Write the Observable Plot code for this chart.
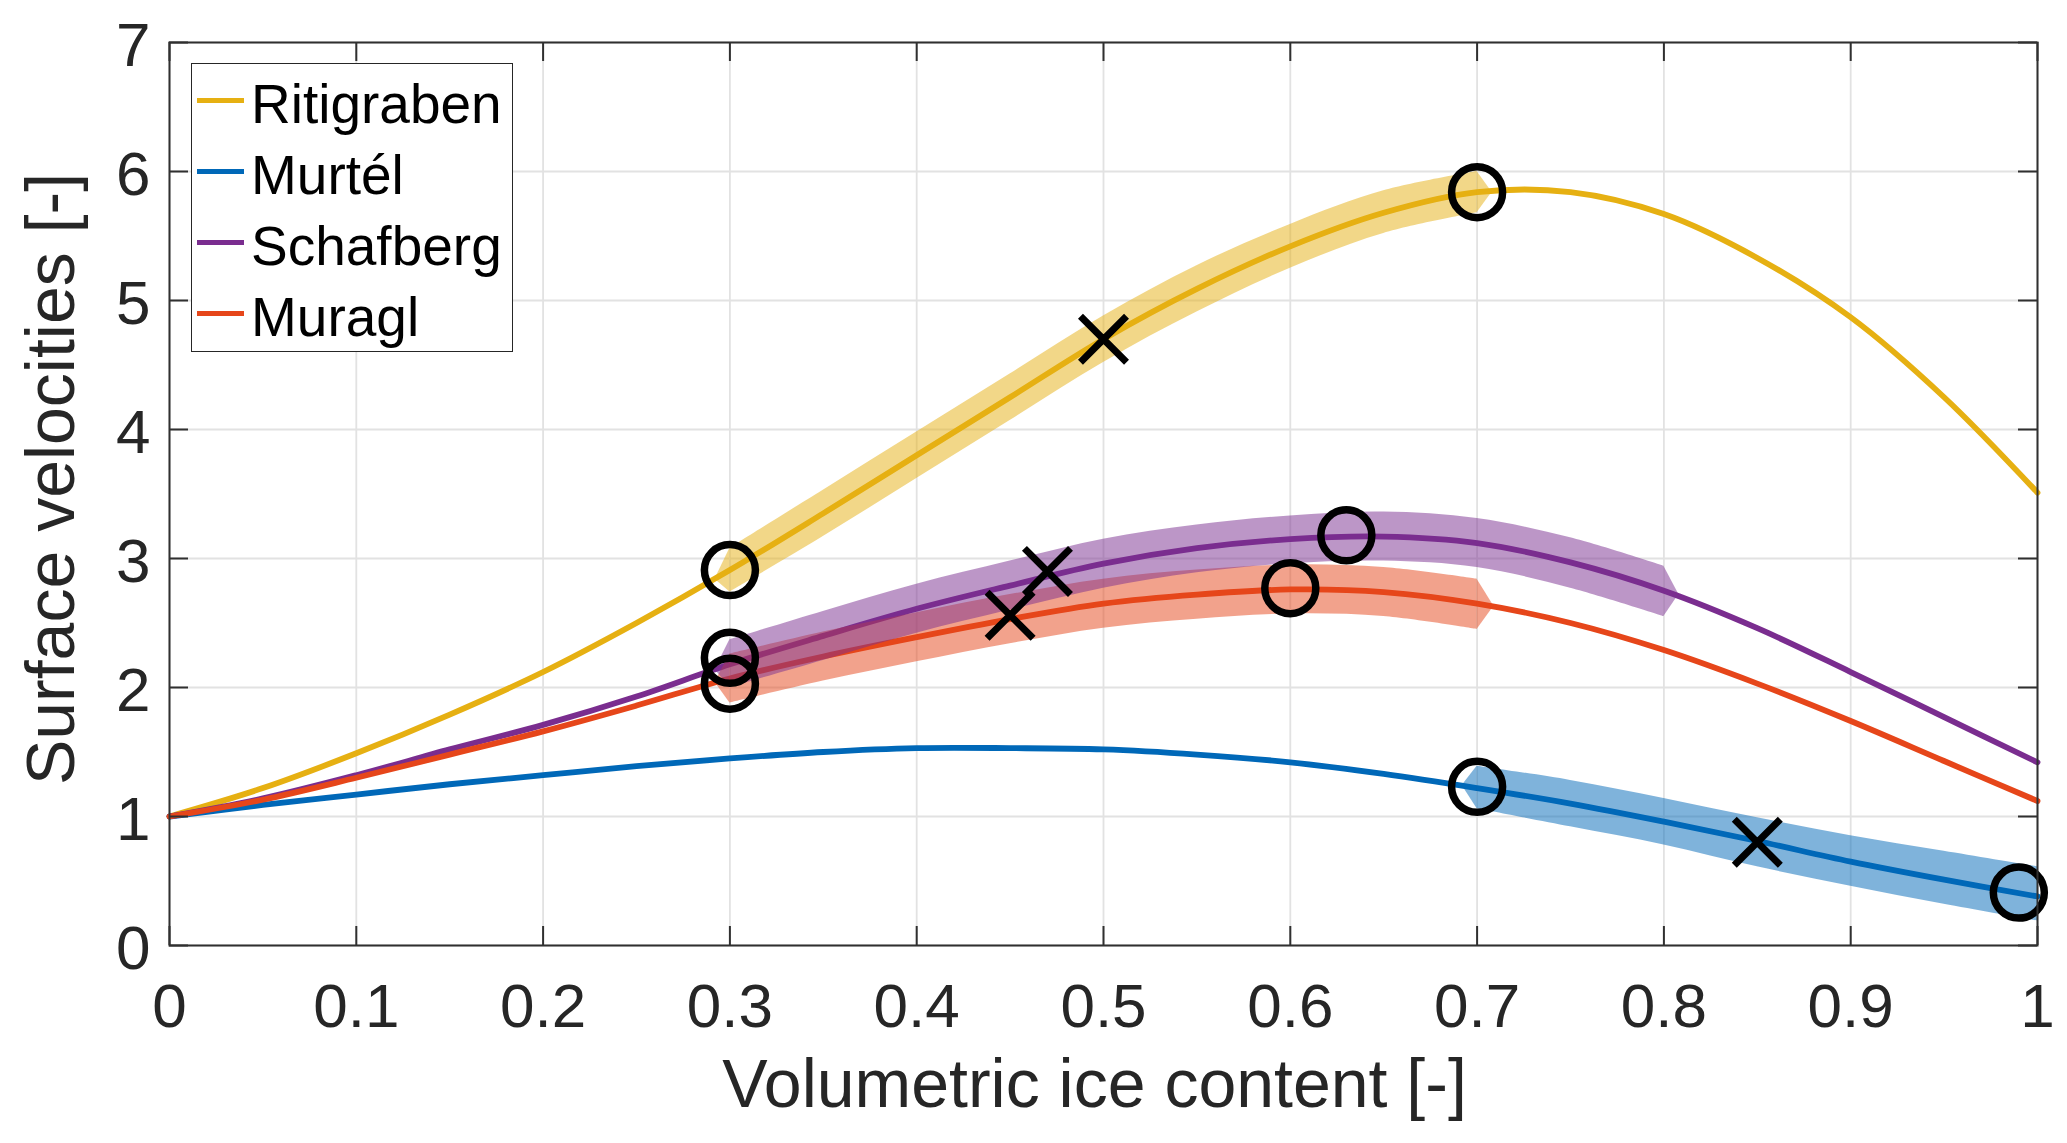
<!DOCTYPE html>
<html>
<head>
<meta charset="utf-8">
<script src="https://cdn.jsdelivr.net/npm/d3@7"></script>
<script src="https://cdn.jsdelivr.net/npm/@observablehq/plot@0.6"></script>
<style>
  body { margin: 0; background: #fff; }
  #chart { position: relative; width: 2067px; height: 1143px; font-family: "Liberation Sans", Arial, Helvetica, sans-serif; }
  #legend { position: absolute; left: 191px; top: 63px; width: 322px; height: 289px; box-sizing: border-box;
            border: 1.5px solid #262626; background: #fff; }
  #legend .row { position: absolute; left: 0; height: 71px; display: flex; align-items: center; }
  #legend .sw { width: 47px; height: 5.5px; margin-left: 5px; }
  #legend .lab { margin-left: 7px; font-size: 55px; color: #000; line-height: 1; transform: translateY(4px); white-space: nowrap; }
</style>
</head>
<body>
<div id="chart"><div id="legend"></div></div>
<script>
// ---------- Data ----------
const names  = ["Ritigraben", "Murtél", "Schafberg", "Muragl"];
const colors = ["#E6B012", "#0068B8", "#7A2D8F", "#E6461A"];

const xTicks = [0, 0.1, 0.2, 0.3, 0.4, 0.5, 0.6, 0.7, 0.8, 0.9, 1];
const yTicks = [0, 1, 2, 3, 4, 5, 6, 7];

// curves sampled every 0.05 of ice content
const xs         = [0, 0.05, 0.1, 0.15, 0.2, 0.25, 0.3, 0.35, 0.4, 0.45, 0.5, 0.55, 0.6, 0.65, 0.7, 0.75, 0.8, 0.85, 0.9, 0.95, 1];
const ritigraben = [1.00, 1.22, 1.49, 1.79, 2.12, 2.50, 2.91, 3.35, 3.80, 4.25, 4.70, 5.09, 5.42, 5.68, 5.84, 5.84, 5.67, 5.33, 4.87, 4.25, 3.51];
const murtel     = [1.00, 1.09, 1.17, 1.25, 1.32, 1.39, 1.45, 1.50, 1.53, 1.53, 1.52, 1.48, 1.42, 1.33, 1.22, 1.10, 0.96, 0.81, 0.65, 0.51, 0.38];
const schafberg  = [1.00, 1.14, 1.32, 1.52, 1.71, 1.93, 2.18, 2.40, 2.61, 2.79, 2.96, 3.08, 3.15, 3.17, 3.12, 2.97, 2.75, 2.46, 2.12, 1.77, 1.42];
const muragl     = [1.00, 1.13, 1.30, 1.48, 1.66, 1.86, 2.07, 2.24, 2.39, 2.53, 2.65, 2.72, 2.76, 2.74, 2.65, 2.50, 2.29, 2.03, 1.74, 1.43, 1.12];

// shaded ranges (lower / upper edge; equal values = pointed end)
const ritiBandX  = [0.292, 0.3, 0.35, 0.4, 0.45, 0.5, 0.55, 0.6, 0.65, 0.7, 0.708];
const ritiBandLo = [2.84, 2.74, 3.17, 3.62, 4.07, 4.52, 4.91, 5.25, 5.52, 5.68, 5.84];
const ritiBandHi = [2.84, 3.08, 3.53, 3.98, 4.43, 4.88, 5.27, 5.59, 5.85, 6.00, 5.84];

const murtBandX  = [0.692, 0.7, 0.75, 0.8, 0.85, 0.9, 0.95, 1];
const murtBandLo = [1.24, 1.06, 0.92, 0.78, 0.61, 0.46, 0.32, 0.19];
const murtBandHi = [1.24, 1.39, 1.28, 1.14, 0.99, 0.85, 0.73, 0.61];

const schaBandX  = [0.292, 0.3, 0.35, 0.4, 0.45, 0.5, 0.55, 0.6, 0.65, 0.7, 0.75, 0.8, 0.808];
const schaBandLo = [2.14, 2.00, 2.21, 2.42, 2.60, 2.77, 2.89, 2.96, 2.98, 2.93, 2.77, 2.55, 2.72];
const schaBandHi = [2.14, 2.37, 2.59, 2.80, 2.98, 3.15, 3.26, 3.33, 3.36, 3.31, 3.16, 2.94, 2.72];

const muraBandX  = [0.292, 0.3, 0.35, 0.4, 0.45, 0.5, 0.55, 0.6, 0.65, 0.7, 0.709];
const muraBandLo = [2.04, 1.88, 2.05, 2.20, 2.34, 2.46, 2.53, 2.57, 2.55, 2.45, 2.63];
const muraBandHi = [2.04, 2.26, 2.43, 2.58, 2.72, 2.84, 2.91, 2.95, 2.93, 2.84, 2.63];

// markers
const circleX = [0.3, 0.7, 0.7, 0.99, 0.3, 0.63, 0.3, 0.6];
const circleY = [2.91, 5.84, 1.23, 0.41, 2.23, 3.18, 2.03, 2.77];
const crossX  = [0.5, 0.85, 0.47, 0.45];
const crossY  = [4.70, 0.80, 2.90, 2.56];

// ---------- Tables for Plot ----------
const curves = [ritigraben, murtel, schafberg, muragl];
const lineRows = curves.flatMap((vals, i) => xs.map((x, j) => ({x, y: vals[j], name: names[i]})));

// drawing order of the bands: yellow, blue, orange, purple (purple lies on top)
const bands = [
  {name: "Ritigraben", x: ritiBandX, lo: ritiBandLo, hi: ritiBandHi},
  {name: "Murtél",     x: murtBandX, lo: murtBandLo, hi: murtBandHi},
  {name: "Muragl",     x: muraBandX, lo: muraBandLo, hi: muraBandHi},
  {name: "Schafberg",  x: schaBandX, lo: schaBandLo, hi: schaBandHi}
];
// smooth body of each band, plus straight pointed tips
const bandBody = [], bandTips = [];
for (const b of bands) {
  const n = b.x.length;
  const row = (j, key) => ({x: b.x[j], lo: b.lo[j], hi: b.hi[j], name: b.name, key});
  for (let j = 0; j < n; j++) if (b.lo[j] !== b.hi[j]) bandBody.push(row(j, b.name));
  if (b.lo[0] === b.hi[0]) bandTips.push(row(0, b.name + "-L"), row(1, b.name + "-L"));
  if (b.lo[n - 1] === b.hi[n - 1]) bandTips.push(row(n - 2, b.name + "-R"), row(n - 1, b.name + "-R"));
}

const circles = circleX.map((x, i) => ({x, y: circleY[i]}));
const crosses = crossX.map((x, i) => ({x, y: crossY[i]}));

// ---------- Plot ----------
const W = 2067, H = 1143;
const mt = 42, mb = 198, ml = 169, mr = 30;
const innerW = W - ml - mr, innerH = H - mt - mb;
const tickLen = 19;
const axisColor = "#303030";

const chart = Plot.plot({
  width: W, height: H,
  marginTop: mt, marginBottom: mb, marginLeft: ml, marginRight: mr,
  style: {fontFamily: "'Liberation Sans', Arial, Helvetica, sans-serif", color: "#262626", background: "#fff"},
  x: {domain: [0, 1]},
  y: {domain: [0, 7]},
  color: {domain: names, range: colors},
  marks: [
    // grid
    Plot.ruleX(xTicks, {stroke: "#e2e2e2", strokeWidth: 1.8}),
    Plot.ruleY(yTicks, {stroke: "#e2e2e2", strokeWidth: 1.8}),

    // model curves
    Plot.line(lineRows, {x: "x", y: "y", z: "name", stroke: "name", strokeWidth: 5.8, curve: "catmull-rom"}),

    // shaded ranges
    Plot.areaY(bandBody, {x: "x", y1: "lo", y2: "hi", z: "key", fill: "name", fillOpacity: 0.5, curve: "catmull-rom"}),
    Plot.areaY(bandTips, {x: "x", y1: "lo", y2: "hi", z: "key", fill: "name", fillOpacity: 0.5}),

    // markers
    Plot.dot(circles, {x: "x", y: "y", r: 25.5, stroke: "#000", strokeWidth: 7.5, fill: "none"}),
    Plot.dot(crosses, {x: "x", y: "y", r: 21, symbol: "times", stroke: "#000", strokeWidth: 7}),

    // box + inward ticks on all four sides
    Plot.frame({stroke: axisColor, strokeWidth: 2}),
    Plot.ruleX(xTicks, {stroke: axisColor, strokeWidth: 2, insetTop: innerH - tickLen}),
    Plot.ruleX(xTicks, {stroke: axisColor, strokeWidth: 2, insetBottom: innerH - tickLen}),
    Plot.ruleY(yTicks, {stroke: axisColor, strokeWidth: 2, insetRight: innerW - tickLen}),
    Plot.ruleY(yTicks, {stroke: axisColor, strokeWidth: 2, insetLeft: innerW - tickLen}),

    // tick labels
    Plot.axisX(xTicks, {tickSize: 0, tickPadding: 37, fontSize: 62, label: null, tickFormat: d => String(d)}),
    Plot.axisY(yTicks, {tickSize: 0, tickPadding: 19, fontSize: 62, label: null, dy: 4, tickFormat: d => String(d)}),

    // axis titles
    Plot.text(["Volumetric ice content [-]"], {frameAnchor: "bottom", text: d => d, lineAnchor: "bottom",
      textAnchor: "middle", dy: 161, dx: -9, fontSize: 68, fill: "#262626"}),
    Plot.text(["Surface velocities [-]"], {frameAnchor: "left", text: d => d, lineAnchor: "bottom",
      textAnchor: "middle", rotate: -90, dx: -96, dy: -15, fontSize: 68, fill: "#262626"})
  ]
});

const host = document.getElementById("chart");
host.insertBefore(chart, host.firstChild);

// ---------- Legend (overlay, built from names / colors) ----------
const legend = document.getElementById("legend");
names.forEach((n, i) => {
  const row = document.createElement("div");
  row.className = "row";
  row.style.top = (38 + 71 * i - 35.5 - 1.5) + "px";
  row.innerHTML = `<div class="sw" style="background:${colors[i]}"></div><span class="lab">${n}</span>`;
  legend.appendChild(row);
});
</script>
</body>
</html>
